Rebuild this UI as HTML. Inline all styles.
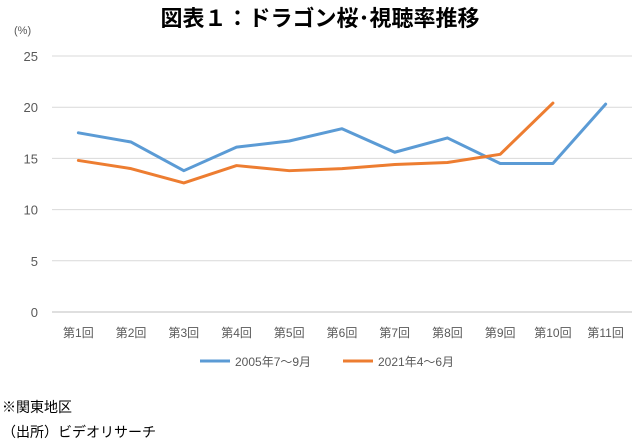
<!DOCTYPE html>
<html><head><meta charset="utf-8"><style>
body{margin:0;background:#fff;font-family:"Liberation Sans","Noto Sans CJK JP",sans-serif;}
#wrap{position:relative;width:640px;height:446px;overflow:hidden;}
</style></head><body>
<div id="wrap">
<svg id="svg" width="640" height="446"></svg>
</div>
<script>
const categories=["第1回","第2回","第3回","第4回","第5回","第6回","第7回","第8回","第9回","第10回","第11回"];
const series2005=[17.5,16.6,13.8,16.1,16.7,17.9,15.6,17.0,14.5,14.5,20.3];
const series2021=[14.8,14.0,12.6,14.3,13.8,14.0,14.4,14.6,15.4,20.4];
const yTicks=[0,5,10,15,20,25];
const seriesNames=["2005年7～9月","2021年4～6月"];
const NS="http://www.w3.org/2000/svg";
const svg=document.getElementById('svg');
const x0=52,x1=632,y0=312,y1=56,ymax=25;
const bw=(x1-x0)/categories.length;
const X=i=>x0+bw*(i+0.5);
const Y=v=>y0-(v/ymax)*(y0-y1);
function mk(t,a,txt){const e=document.createElementNS(NS,t);for(const k in a)e.setAttribute(k,a[k]);if(txt!==undefined)e.textContent=txt;svg.appendChild(e);return e;}
let e=mk('text',{x:320,y:26,'text-anchor':'middle','font-size':22,'font-weight':'bold',fill:'#000'},'図表１：ドラゴン桜･視聴率推移');


e=mk('text',{x:14,y:34,'font-size':11,fill:'#595959'},'(%)');


yTicks.forEach(t=>{
 const l=mk('line',{x1:x0,x2:x1,y1:Y(t),y2:Y(t),stroke:t===0?'#bfbfbf':'#d9d9d9','stroke-width':1});
 
 
 const tx=mk('text',{x:38,y:Y(t)+5,'text-anchor':'end','font-size':13,fill:'#595959'},t);
 
 
});
categories.forEach((c,i)=>{
 const tx=mk('text',{x:X(i),y:337,'text-anchor':'middle','font-size':12,fill:'#595959'},c);
 
 
});
const colors=['#5b9bd5','#ed7d31'];
[series2005,series2021].forEach((s,k)=>{
 const p=mk('polyline',{points:s.map((v,i)=>X(i)+','+Y(v)).join(' '),fill:'none',stroke:colors[k],'stroke-width':3,'stroke-linejoin':'round','stroke-linecap':'round'});
 
 
});
[[200,seriesNames[0]],[343,seriesNames[1]]].forEach(([lx,n],k)=>{
 const l=mk('line',{x1:lx,x2:lx+30,y1:361,y2:361,stroke:colors[k],'stroke-width':3});
 
 
 const t=mk('text',{x:lx+35,y:366,'font-size':12,fill:'#595959'},n);
 
 
});
e=mk('text',{x:2,y:412,'font-size':14,fill:'#000'},'※関東地区');


e=mk('text',{x:2,y:437,'font-size':14,fill:'#000'},'（出所）ビデオリサーチ');


</script>
</body></html>
